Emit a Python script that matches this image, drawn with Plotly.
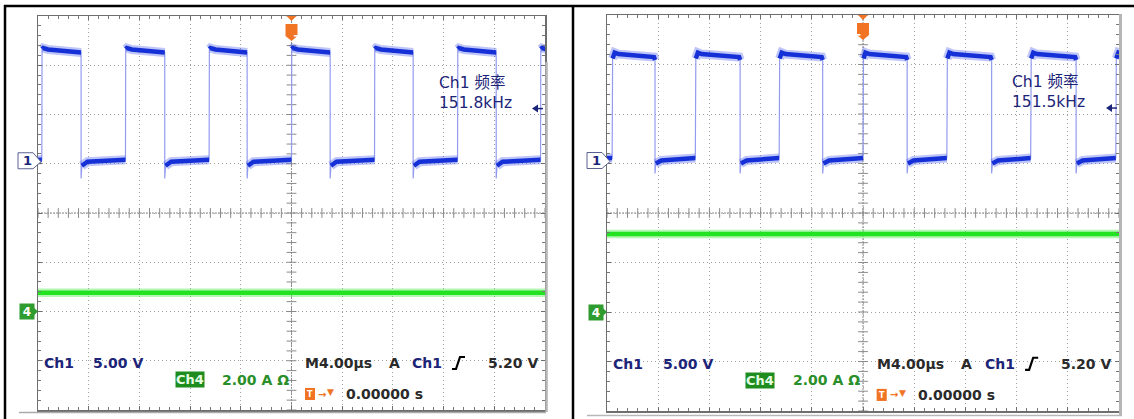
import numpy as np
import plotly.graph_objects as go

W, H = 1134, 419

# ---------------- data ----------------
time_range_us = [-20.0, 20.0]          # 10 div x 4.00 us/div, trigger at 0
ch1_volts_range = [-25.0, 15.0]        # 5.00 V/div, Ch1 ground 1 div above centre
ch4_amps_range = [-4.0, 12.0]          # 2.00 A/div, Ch4 ground 2 div below centre

# left scope (151.8 kHz)
left_rises_us = [-19.7, -13.1, -6.5, 0.0, 6.55, 13.1, 19.65]
left_falls_us = [-16.6, -10.0, -3.5, 3.05, 9.6, 16.15]
left_levels_v = dict(hi_start=11.75, hi_settle=11.6, hi_end=11.3,
                     lo_start=-0.2, lo_settle=0.2, lo_end=0.4, undershoot=-1.5)
left_shape = dict(settle_dt=0.5, rise_dt=0.02, rise_dv=0.1, rise_dt2=0.1, fall_dt=0.0, fall_dv=0.0)
left_ch4_time_us = [-20.0, 20.0]
left_ch4_amps = [0.76, 0.76]
left_freq_label = "151.8kHz"

# right scope (151.5 kHz)
right_rises_us = [-19.6, -13.1, -6.55, 0.0, 6.55, 13.1, 19.75]
right_falls_us = [-16.25, -9.6, -3.15, 3.45, 10.05, 16.65]
right_levels_v = dict(hi_start=11.2, hi_settle=11.05, hi_end=10.75,
                      lo_start=0.0, lo_settle=0.3, lo_end=0.55, undershoot=-1.0)
right_shape = dict(settle_dt=0.5, rise_dt=0.04, rise_dv=0.6, rise_dt2=0.2, fall_dt=0.08, fall_dv=0.3)
right_ch4_time_us = [-20.0, 20.0]
right_ch4_amps = [3.15, 3.15]
right_freq_label = "151.5kHz"

# readout texts
ch1_scale_text = "5.00 V"
ch4_scale_text = "2.00 A Ω"
timebase_text = "4.00µs"
trig_level_text = "5.20 V"
trig_pos_text = "0.00000 s"

# ---------------- helpers ----------------
SCOPES = [dict(l=38, r=545, t=16, b=410), dict(l=607, r=1119, t=15, b=411)]
for s in SCOPES:
    s["cx"] = (s["l"] + s["r"]) / 2
    s["cy"] = (s["t"] + s["b"]) / 2
    s["pxd"] = (s["r"] - s["l"]) / 10
    s["pyd"] = (s["b"] - s["t"]) / 8

NAVY = "#1c2478"
DARK = "#2a2a2a"
GREEN_TXT = "#2a8f2a"
ORANGE = "#f07424"
FONT = "DejaVu Sans, Noto Sans CJK SC, sans-serif"


def X(px):
    return px / W


def Y(py):
    return 1 - py / H


def build_ch1(rises, falls, lv, kn, t0, t1):
    events = sorted([(t, "r") for t in rises] + [(t, "f") for t in falls])
    sd = kn["settle_dt"]
    px, py, bx, by = [], [], [], []
    high = events[0][1] == "f"
    lev = lv["hi_settle"] if high else lv["lo_end"]
    px += [t0]; py += [lev]; bx += [t0]; by += [lev]
    for t, k in events:
        if k == "r":
            px += [t, t + kn["rise_dt"], t + kn["rise_dt2"], t + sd]
            py += [lv["lo_end"], lv["hi_start"] - kn["rise_dv"], lv["hi_start"], lv["hi_settle"]]
            bx += [t, None, t + kn["rise_dt"], t + kn["rise_dt2"], t + sd]
            by += [lv["lo_end"], None, lv["hi_start"] - kn["rise_dv"], lv["hi_start"], lv["hi_settle"]]
            high = True
        else:
            px += [t - kn["fall_dt"], t, t, t + 0.06, t + sd]
            py += [lv["hi_end"], lv["hi_end"] - kn["fall_dv"], lv["undershoot"], lv["lo_start"], lv["lo_settle"]]
            bx += [t - kn["fall_dt"], t, None, t + 0.06, t + sd]
            by += [lv["hi_end"], lv["hi_end"] - kn["fall_dv"], None, lv["lo_start"], lv["lo_settle"]]
            high = False
    lev = lv["hi_settle"] if high else lv["lo_end"]
    px += [t1]; py += [lev]; bx += [t1]; by += [lev]
    return px, py, bx, by


fig = go.Figure()

scope_data = [
    (left_rises_us, left_falls_us, left_levels_v, left_shape, left_ch4_time_us, left_ch4_amps, left_freq_label),
    (right_rises_us, right_falls_us, right_levels_v, right_shape, right_ch4_time_us, right_ch4_amps, right_freq_label),
]

shapes, annos = [], []

for i, (rises, falls, lv, kn, c4t, c4a, flabel) in enumerate(scope_data):
    s = SCOPES[i]
    xa = "x" if i == 0 else "x2"
    ya = "y" if i == 0 else "y2"
    ya1 = "y3" if i == 0 else "y4"
    ya4 = "y5" if i == 0 else "y6"

    # centre cross ticks (graticule)
    tx = np.arange(-20, 20.001, 0.8)
    ty = np.arange(-4, 4.001, 0.2)
    fig.add_trace(go.Scatter(x=tx, y=np.zeros_like(tx), xaxis=xa, yaxis=ya, mode="markers",
                             marker=dict(symbol="line-ns", size=7, line=dict(width=1, color="#8a8a8a")),
                             hoverinfo="skip", showlegend=False))
    fig.add_trace(go.Scatter(x=np.zeros_like(ty), y=ty, xaxis=xa, yaxis=ya, mode="markers",
                             marker=dict(symbol="line-ew", size=7, line=dict(width=1, color="#8a8a8a")),
                             hoverinfo="skip", showlegend=False))

    # Ch4 current (green)
    fig.add_trace(go.Scatter(x=c4t, y=c4a, xaxis=xa, yaxis=ya4, mode="lines",
                             line=dict(color="rgba(90,235,90,0.45)", width=8.5), hoverinfo="skip", showlegend=False))
    fig.add_trace(go.Scatter(x=c4t, y=c4a, xaxis=xa, yaxis=ya4, mode="lines",
                             line=dict(color="#22e222", width=4.5), hoverinfo="skip", showlegend=False))

    # Ch1 voltage (blue)
    pxs, pys, bxs, bys = build_ch1(rises, falls, lv, kn, time_range_us[0], time_range_us[1])
    fig.add_trace(go.Scatter(x=pxs, y=pys, xaxis=xa, yaxis=ya1, mode="lines",
                             line=dict(color="#939bee", width=1.2), hoverinfo="skip", showlegend=False))
    fig.add_trace(go.Scatter(x=bxs, y=bys, xaxis=xa, yaxis=ya1, mode="lines",
                             line=dict(color="rgba(70,90,235,0.35)", width=9), hoverinfo="skip",
                             showlegend=False, connectgaps=False))
    fig.add_trace(go.Scatter(x=bxs, y=bys, xaxis=xa, yaxis=ya1, mode="lines",
                             line=dict(color="#1430d6", width=4.5), hoverinfo="skip",
                             showlegend=False, connectgaps=False))

    # centre lines
    shapes.append(dict(type="line", xref=xa, yref=ya, x0=0, x1=0, y0=-4, y1=4, layer="below",
                       line=dict(color="#8a8a8a", width=1, dash="2px,1px")))
    shapes.append(dict(type="line", xref=xa, yref=ya, x0=-20, x1=20, y0=0, y1=0, layer="below",
                       line=dict(color="#8a8a8a", width=1, dash="2px,1px")))

    l, r, t, b, cx, cy, pyd = s["l"], s["r"], s["t"], s["b"], s["cx"], s["cy"], s["pyd"]
    # Ch1 ground marker
    g1 = cy - 1 * pyd
    shapes.append(dict(type="path", xref="paper", yref="paper", layer="above",
                       path=f"M{X(l-20)},{Y(g1-11)} L{X(l-5)},{Y(g1-11)} L{X(l+3)},{Y(g1-2)} "
                            f"L{X(l-5)},{Y(g1+5)} L{X(l-20)},{Y(g1+5)} Z",
                       fillcolor="white", line=dict(color="#5a6090", width=1)))
    annos.append(dict(x=X(l-11), y=Y(g1-3), xref="paper", yref="paper", text="<b>1</b>", showarrow=False,
                      xanchor="center", yanchor="middle",
                      font=dict(family=FONT, size=13, color=NAVY)))
    # Ch4 ground marker: green label box + arrow tip
    g4 = cy + 2 * pyd
    shapes.append(dict(type="path", xref="paper", yref="paper", layer="above",
                       path=f"M{X(l-8)},{Y(g4-7.5)} L{X(l)},{Y(g4)} L{X(l-8)},{Y(g4+7.5)} Z",
                       fillcolor="#2e9c2e", line=dict(width=0)))
    annos.append(dict(x=X(l-19), y=Y(g4), xref="paper", yref="paper", text="<b>4</b>", showarrow=False,
                      xanchor="left", yanchor="middle", bgcolor="#2e9c2e", borderpad=1, width=12, height=13,
                      font=dict(family=FONT, size=12, color="#ffffff")))
    # trigger position marker (T)
    shapes.append(dict(type="path", xref="paper", yref="paper", layer="above",
                       path=f"M{X(cx-5)},{Y(t)} L{X(cx+5)},{Y(t)} L{X(cx)},{Y(t+5)} Z",
                       fillcolor=ORANGE, line=dict(width=0)))
    shapes.append(dict(type="path", xref="paper", yref="paper", layer="above",
                       path=f"M{X(cx-6)},{Y(t+8)} L{X(cx+6)},{Y(t+8)} L{X(cx+6)},{Y(t+20)} "
                            f"L{X(cx)},{Y(t+25)} L{X(cx-6)},{Y(t+20)} Z",
                       fillcolor=ORANGE, line=dict(width=0)))
    annos.append(dict(x=X(cx), y=Y(t+15), xref="paper", yref="paper", text="<b>T</b>", showarrow=False,
                      font=dict(family=FONT, size=11, color="white")))
    # trigger level arrow at right edge
    ty_ = cy - 2.12 * pyd
    shapes.append(dict(type="path", xref="paper", yref="paper", layer="above",
                       path=f"M{X(r-13)},{Y(ty_)} L{X(r-7)},{Y(ty_-4)} L{X(r-7)},{Y(ty_+4)} Z",
                       fillcolor=NAVY, line=dict(width=0)))
    shapes.append(dict(type="line", xref="paper", yref="paper", x0=X(r-8), x1=X(r-2), y0=Y(ty_), y1=Y(ty_),
                       line=dict(color=NAVY, width=1.5)))

    # readouts (positions in left-scope pixels converted to scope coordinates)
    def D(pxl, pyl):
        return (pxl - 291.5) / 50.7 * 4, (213 - pyl) / 49.25

    def txt(pxl, pyl, text, color, size=14, anchor="left", bold=True, **kw):
        xx, yy = D(pxl, pyl)
        annos.append(dict(x=xx, y=yy, xref=xa, yref=ya, text=(f"<b>{text}</b>" if bold else text),
                          showarrow=False, xanchor=anchor, yanchor="middle",
                          font=dict(family=FONT, size=size, color=color), **kw))

    txt(42, 363, "Ch1", NAVY)
    txt(91, 363, ch1_scale_text, NAVY)
    txt(189.5, 379.5, "Ch4", "#e4ffe4", size=13, anchor="center", bgcolor="#1f8c1f", borderpad=0)
    txt(220, 379.5, ch4_scale_text, GREEN_TXT)
    txt(303, 363, "M", DARK)
    txt(317, 363, timebase_text, DARK)
    txt(387, 363, "A", DARK)
    txt(410, 363, "Ch1", NAVY)
    txt(486, 363, trig_level_text, DARK)
    txt(344, 394, trig_pos_text, DARK)
    txt(316, 394, "→", ORANGE, size=10)
    txt(325, 392, "▼", ORANGE, size=9)
    xx, yy = D(437, 92.5)
    annos.append(dict(x=xx, y=yy, xref=xa, yref=ya, text="Ch1 频率<br>" + flabel, showarrow=False,
                      xanchor="left", yanchor="middle", align="left",
                      font=dict(family=FONT, size=15.5, color=NAVY)))

    # orange T box of trigger position readout
    x0b, y0b = D(305, 388)
    x1b, y1b = D(315, 400)
    shapes.append(dict(type="rect", xref=xa, yref=ya, x0=x0b, x1=x1b, y0=y0b, y1=y1b,
                       fillcolor=ORANGE, line=dict(width=0), layer="above"))
    txt(310, 394.5, "T", "white", size=8, anchor="center")
    # rising-edge trigger slope icon
    pts = [D(452, 369), D(456, 369), D(460, 357), D(465, 357)]
    shapes.append(dict(type="path", xref=xa, yref=ya, layer="above",
                       path="M" + " L".join(f"{a},{b_}" for a, b_ in pts),
                       line=dict(color="black", width=2.2)))

# gray screenshot borders
shapes.append(dict(type="line", xref="paper", yref="paper", x0=X(546.5), x1=X(546.5), y0=Y(62), y1=Y(412),
                   line=dict(color="#b5b5b5", width=2.5)))
shapes.append(dict(type="line", xref="paper", yref="paper", x0=X(1120.5), x1=X(1120.5), y0=Y(14), y1=Y(415),
                   line=dict(color="#b5b5b5", width=3)))
shapes.append(dict(type="line", xref="paper", yref="paper", x0=X(19), x1=X(546), y0=Y(412.5), y1=Y(412.5),
                   line=dict(color="#ababab", width=1.5)))
shapes.append(dict(type="line", xref="paper", yref="paper", x0=X(587), x1=X(1122), y0=Y(415.5), y1=Y(415.5),
                   line=dict(color="#b8b8b8", width=1.5)))
# black document frame
for (x0, y0, x1, y1) in [(4, 6, 1134, 6), (5, 5, 5, 419), (573, 5, 573, 419)]:
    shapes.append(dict(type="line", xref="paper", yref="paper", x0=X(x0), x1=X(x1), y0=Y(y0), y1=Y(y1),
                       line=dict(color="black", width=2.5)))


def xaxis(s):
    return dict(domain=[X(s["l"]), X(s["r"])], range=time_range_us, tickmode="linear", tick0=-20, dtick=4,
                showgrid=True, gridcolor="#a0a0a0", griddash="1px,3px", gridwidth=1,
                showline=True, linecolor="#6e6e6e", linewidth=1.5, mirror="ticks",
                ticks="inside", ticklen=4, tickcolor="#6e6e6e", showticklabels=False, zeroline=False,
                minor=dict(tick0=-20, dtick=0.8, ticks="inside", ticklen=3, tickcolor="#777", showgrid=False),
                fixedrange=True)


def yaxis(s, anchor):
    return dict(domain=[Y(s["b"]), Y(s["t"])], range=[-4, 4], tickmode="linear", tick0=-4, dtick=1,
                anchor=anchor, showgrid=True, gridcolor="#a0a0a0", griddash="1px,3px", gridwidth=1,
                showline=True, linecolor="#6e6e6e", linewidth=1.5, mirror="ticks",
                ticks="inside", ticklen=4, tickcolor="#6e6e6e", showticklabels=False, zeroline=False,
                minor=dict(tick0=-4, dtick=0.2, ticks="inside", ticklen=3, tickcolor="#777", showgrid=False),
                fixedrange=True)


fig.update_layout(
    width=W, height=H, autosize=False,
    margin=dict(l=0, r=0, t=0, b=0, pad=0),
    paper_bgcolor="white", plot_bgcolor="white",
    showlegend=False,
    xaxis=dict(xaxis(SCOPES[0]), anchor="y"),
    yaxis=yaxis(SCOPES[0], "x"),
    xaxis2=dict(xaxis(SCOPES[1]), anchor="y2"),
    yaxis2=yaxis(SCOPES[1], "x2"),
    yaxis3=dict(overlaying="y", anchor="x", range=ch1_volts_range, visible=False, fixedrange=True),
    yaxis4=dict(overlaying="y2", anchor="x2", range=ch1_volts_range, visible=False, fixedrange=True),
    yaxis5=dict(overlaying="y", anchor="x", range=ch4_amps_range, visible=False, fixedrange=True),
    yaxis6=dict(overlaying="y2", anchor="x2", range=ch4_amps_range, visible=False, fixedrange=True),
    shapes=shapes,
    annotations=annos,
    font=dict(family=FONT),
)

fig.write_html("out.html", config={"displayModeBar": False, "staticPlot": True},
               post_script="document.body.style.margin='0';")
